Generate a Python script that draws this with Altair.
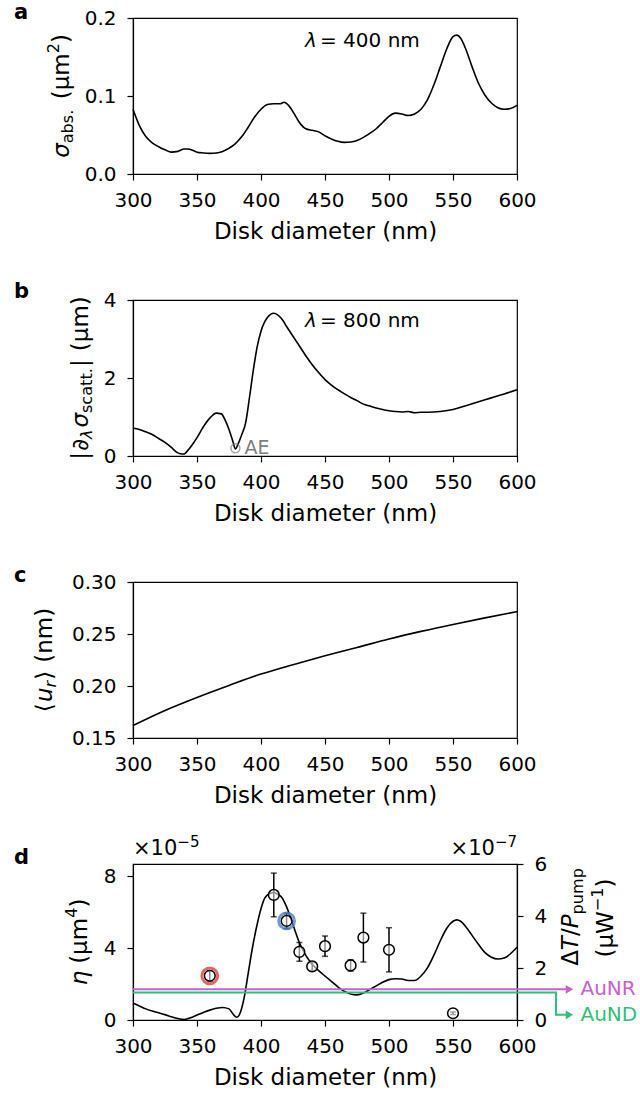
import altair as alt
import pandas as pd

FONT = "DejaVu Sans"
W, H = 384, 156          # plot area of every panel
XDOM = [300, 600]
XTICKS = list(range(300, 601, 50))

# ---------------- panel a: absorption cross-section, lambda = 400 nm ----------------
diam_a = [300, 305, 310, 315, 320, 325, 330, 335, 340, 343, 347, 350, 355, 360, 365, 370,
          375, 380, 385, 390, 395, 400, 405, 410, 415, 418, 422, 426, 430, 435, 440, 445,
          450, 455, 460, 465, 470, 475, 480, 485, 490, 495, 500, 505, 510, 515, 520, 525,
          530, 535, 540, 545, 550, 553, 556, 560, 565, 570, 575, 580, 585, 590, 595, 600]
sigma_abs = [0.083, 0.062, 0.048, 0.040, 0.035, 0.031, 0.028, 0.029, 0.032, 0.032, 0.030,
             0.028, 0.027, 0.0265, 0.027, 0.029, 0.033, 0.039, 0.048, 0.060, 0.073, 0.083,
             0.089, 0.090, 0.090, 0.092, 0.087, 0.077, 0.066, 0.058, 0.056, 0.054, 0.049,
             0.045, 0.042, 0.0405, 0.041, 0.043, 0.047, 0.052, 0.058, 0.066, 0.074, 0.078,
             0.077, 0.075, 0.077, 0.083, 0.095, 0.114, 0.137, 0.160, 0.176, 0.178, 0.174,
             0.160, 0.137, 0.116, 0.101, 0.091, 0.085, 0.083, 0.084, 0.088]

# ---------------- panel b: |d sigma_scatt / d lambda|, lambda = 800 nm ----------------
diam_b = [300, 305, 310, 315, 320, 325, 330, 334, 337, 340, 343, 347, 350, 355, 360, 365,
          369, 372, 375, 378, 380, 382, 385, 388, 391, 394, 397, 400, 405, 410, 413, 417,
          420, 425, 430, 435, 440, 445, 450, 455, 460, 465, 470, 475, 480, 485, 490, 495,
          500, 505, 510, 515, 520, 525, 530, 540, 550, 560, 570, 580, 590, 600]
dsigma_scatt = [0.71, 0.68, 0.62, 0.55, 0.45, 0.35, 0.22, 0.10, 0.06, 0.05, 0.15, 0.32,
                0.47, 0.75, 0.97, 1.10, 1.08, 0.92, 0.68, 0.38, 0.18, 0.30, 0.55, 0.85,
                1.50, 2.20, 2.80, 3.20, 3.55, 3.66, 3.62, 3.48, 3.32, 3.07, 2.82, 2.57,
                2.34, 2.14, 1.96, 1.82, 1.70, 1.60, 1.50, 1.42, 1.33, 1.28, 1.23, 1.19,
                1.16, 1.14, 1.13, 1.14, 1.11, 1.12, 1.12, 1.14, 1.19, 1.29, 1.39, 1.49,
                1.59, 1.70]
ae_diam, ae_val = 380, 0.2

# ---------------- panel c: mean radial displacement ----------------
diam_c = [300, 325, 350, 375, 400, 425, 450, 475, 500, 525, 550, 575, 600]
u_r = [0.162, 0.1765, 0.189, 0.2005, 0.2115, 0.2205, 0.229, 0.237, 0.2452, 0.2525,
       0.2592, 0.2655, 0.2715]

# ---------------- panel d: eta (x1e-5 um^4) and measured dT/P (x1e-7 uW^-1) ----------------
diam_d = [300, 305, 310, 315, 320, 325, 330, 335, 340, 345, 350, 355, 360, 365, 370, 375,
          378, 381, 384, 387, 390, 393, 396, 400, 403, 407, 410, 413, 416, 420, 425, 430,
          435, 440, 445, 450, 455, 460, 465, 470, 475, 480, 485, 490, 495, 500, 505, 510,
          515, 520, 525, 530, 535, 540, 545, 550, 553, 556, 560, 565, 570, 575, 580, 585,
          590, 595, 600]
eta = [0.94, 0.78, 0.62, 0.50, 0.40, 0.30, 0.18, 0.08, 0.03, 0.12, 0.28, 0.42, 0.55, 0.65,
       0.70, 0.62, 0.35, 0.15, 0.45, 1.30, 2.60, 3.90, 5.00, 6.20, 6.80, 7.05, 7.10, 7.00,
       6.85, 6.30, 5.30, 4.30, 3.60, 3.10, 2.75, 2.45, 2.15, 1.85, 1.60, 1.45, 1.40, 1.50,
       1.70, 1.90, 2.10, 2.25, 2.30, 2.28, 2.20, 2.20, 2.45, 2.90, 3.60, 4.40, 5.10, 5.50,
       5.58, 5.50, 5.20, 4.70, 4.20, 3.75, 3.50, 3.40, 3.45, 3.70, 4.05]

meas_diam = [360, 410, 420, 430, 440, 450, 470, 480, 500, 550]
meas_dt = [1.70, 4.81, 3.81, 2.62, 2.06, 2.84, 2.10, 3.17, 2.70, 0.26]
meas_err = [0.20, 0.84, 0.30, 0.36, 0.15, 0.39, 0.22, 0.94, 0.85, 0.05]
ring_idx = [0, 2]
ring_col = ["#d8463e", "#4a82c6"]

aunr_x = [300, 641]
aunr_y = [1.18, 1.18]
aund_x = [300, 630.5, 630.5, 641]
aund_y = [1.06, 1.06, 0.20, 0.20]
AUNR_COL, AUND_COL = "#c562d0", "#2fbf78"

ETA_MAX = 8.69
DT_MAX = 6

# DejaVu Sans advance widths (em) used to lay out composed labels
CW = {" ": .318, "(": .390, ")": .390, ".": .318, "|": .337, "/": .337, "=": .838,
      "a": .613, "b": .635, "c": .550, "d": .635, "e": .615, "m": .974, "n": .634,
      "p": .635, "s": .521, "t": .392, "u": .634, "r": .411, "μ": .636, "σ": .634,
      "λ": .592, "∂": .517, "η": .634, "Δ": .684, "T": .611, "P": .603, "W": .989,
      "−": .838, "⟨": .390, "⟩": .390, "×": .838}
for d in "0123456789":
    CW[d] = .636


def tw(s, fs):
    return sum(CW.get(ch, .6) for ch in s) * fs


def one():
    return alt.Data(values=[{}])


def txt(t, x, y, fs, italic=False, angle=0, align="left", baseline="alphabetic",
        color="black", weight="normal"):
    props = dict(text=t, align=align, baseline=baseline, font=FONT, fontSize=fs,
                 fontStyle="italic" if italic else "normal", fontWeight=weight, color=color)
    if angle:
        props["angle"] = angle
    return alt.Chart(one()).mark_text(**props).encode(x=alt.value(x), y=alt.value(y))


def vtitle(segs, x0, yc, fs=23):
    """Rotated (bottom-to-top) label built from pieces: (text, scale, shift_em, italic, gap_em)."""
    total = sum(tw(t, fs * sc) + g * fs for t, sc, sh, it, g in segs)
    y = yc + total / 2
    out = []
    for t, sc, sh, it, g in segs:
        y -= g * fs
        out.append(txt(t, x0 + sh * fs, y, fs * sc, italic=it, angle=270))
        y -= tw(t, fs * sc)
    return out


X_AXIS = alt.Axis(values=XTICKS, title="Disk diameter (nm)", titlePadding=10, labelPadding=10,
                  labelFlush=False)


def xenc(field="d"):
    return alt.X(f"{field}:Q", scale=alt.Scale(domain=XDOM, nice=False, zero=False), axis=X_AXIS)


def panel_label(ch, y):
    return txt(ch, -119, y, 21, weight="bold")


def lam_label(val, y):
    return [txt("λ", 172, y, 20, italic=True, baseline="middle"),
            txt(f"= {val} nm", 187, y, 20, baseline="middle")]


# ---- panel a ----
df_a = pd.DataFrame({"d": diam_a, "v": sigma_abs})
line_a = alt.Chart(df_a).mark_line(color="black", strokeWidth=1.6, interpolate="monotone").encode(
    x=xenc(),
    y=alt.Y("v:Q", scale=alt.Scale(domain=[0, 0.2], nice=False),
            axis=alt.Axis(values=[0, 0.1, 0.2], format=".1f", title=None, labelPadding=11)))
pa = alt.layer(
    line_a, *lam_label(400, 23), panel_label("a", 1),
    *vtitle([("σ", 1, 0, True, 0), ("abs.", .7, .18, False, 0), ("(μm", 1, 0, False, .45),
             ("2", .7, -.42, False, 0), (")", 1, 0, False, 0)], -64, H / 2)
).properties(width=W, height=H)

# ---- panel b ----
df_b = pd.DataFrame({"d": diam_b, "v": dsigma_scatt})
YB_SCALE = alt.Scale(domain=[0, 4], nice=False)
YB_AXIS = alt.Axis(values=[0, 2, 4], title=None, labelPadding=11)
line_b = alt.Chart(df_b).mark_line(color="black", strokeWidth=1.6, interpolate="monotone").encode(
    x=xenc(), y=alt.Y("v:Q", scale=YB_SCALE, axis=YB_AXIS))
df_ae = pd.DataFrame({"d": [ae_diam], "v": [ae_val]})
ae_pt = alt.Chart(df_ae).mark_point(shape="circle", filled=False, color="#7f7f7f",
                                    strokeWidth=1.5, size=80).encode(
    x=xenc(), y=alt.Y("v:Q", scale=YB_SCALE, axis=YB_AXIS))
ae_txt = alt.Chart(df_ae).mark_text(text="AE", align="left", baseline="middle", font=FONT,
                                    fontSize=19, color="#7f7f7f", dx=9).encode(
    x=xenc(), y=alt.Y("v:Q", scale=YB_SCALE, axis=YB_AXIS))
pb = alt.layer(
    line_b, ae_pt, ae_txt, *lam_label(800, 21), panel_label("b", -2),
    *vtitle([("|", 1, 0, False, 0), ("∂", 1, 0, True, .05), ("λ", .7, .18, True, 0),
             ("σ", 1, 0, True, .08), ("scatt.", .7, .18, False, 0), ("|", 1, 0, False, .05),
             ("(μm)", 1, 0, False, .35)], -45, H / 2)
).properties(width=W, height=H)

# ---- panel c ----
df_c = pd.DataFrame({"d": diam_c, "v": u_r})
line_c = alt.Chart(df_c).mark_line(color="black", strokeWidth=1.6, interpolate="monotone").encode(
    x=xenc(),
    y=alt.Y("v:Q", scale=alt.Scale(domain=[0.15, 0.30], nice=False, zero=False),
            axis=alt.Axis(values=[0.15, 0.2, 0.25, 0.3], format=".2f", title=None,
                          labelPadding=11)))
pc = alt.layer(
    line_c, panel_label("c", 0),
    *vtitle([("⟨", 1, 0, False, 0), ("u", 1, 0, True, .05), ("r", .7, .18, True, 0),
             ("⟩", 1, 0, False, .05), ("(nm)", 1, 0, False, .35)], -81, H / 2)
).properties(width=W, height=H)

# ---- panel d ----
df_eta = pd.DataFrame({"d": diam_d, "v": eta})
df_m = pd.DataFrame({"d": meas_diam, "v": meas_dt,
                     "lo": [v - e for v, e in zip(meas_dt, meas_err)],
                     "hi": [v + e for v, e in zip(meas_dt, meas_err)]})
df_ring = pd.DataFrame({"d": [meas_diam[i] for i in ring_idx],
                        "v": [meas_dt[i] for i in ring_idx], "c": ring_col})
ydt = alt.Scale(domain=[0, DT_MAX], nice=False)

line_d = alt.Chart(df_eta).mark_line(color="black", strokeWidth=1.6, interpolate="monotone").encode(
    x=xenc(),
    y=alt.Y("v:Q", scale=alt.Scale(domain=[0, ETA_MAX], nice=False),
            axis=alt.Axis(values=[0, 4, 8], title=None, labelPadding=11, orient="left")))
err = alt.Chart(df_m).mark_rule(color="black", strokeWidth=1.5).encode(
    x=xenc(),
    y=alt.Y("lo:Q", scale=ydt,
            axis=alt.Axis(values=[0, 2, 4, 6], title=None, labelPadding=11, orient="right")),
    y2="hi:Q")
cap_lo = alt.Chart(df_m).mark_tick(color="black", orient="horizontal", size=6, thickness=1.5).encode(
    x=xenc(), y=alt.Y("lo:Q", scale=ydt, axis=None))
cap_hi = alt.Chart(df_m).mark_tick(color="black", orient="horizontal", size=6, thickness=1.5).encode(
    x=xenc(), y=alt.Y("hi:Q", scale=ydt, axis=None))
pts = alt.Chart(df_m).mark_point(shape="circle", filled=True, fill="white", fillOpacity=0.55,
                                 stroke="black", strokeWidth=1.5, size=115, opacity=1).encode(
    x=xenc(), y=alt.Y("v:Q", scale=ydt, axis=None))
rings = alt.Chart(df_ring).mark_point(shape="circle", filled=False, strokeWidth=3, size=250,
                                      opacity=0.8).encode(
    x=xenc(), y=alt.Y("v:Q", scale=ydt, axis=None),
    color=alt.Color("c:N", scale=None))

df_nr = pd.DataFrame({"d": aunr_x, "v": aunr_y, "i": list(range(len(aunr_x)))})
df_nd = pd.DataFrame({"d": aund_x, "v": aund_y, "i": list(range(len(aund_x)))})
nr_line = alt.Chart(df_nr).mark_line(color=AUNR_COL, strokeWidth=2).encode(
    x=xenc(), y=alt.Y("v:Q", scale=ydt, axis=None), order="i:Q")
nd_line = alt.Chart(df_nd).mark_line(color=AUND_COL, strokeWidth=2).encode(
    x=xenc(), y=alt.Y("v:Q", scale=ydt, axis=None), order="i:Q")
df_heads = pd.DataFrame({"d": [aunr_x[-1], aund_x[-1]], "v": [aunr_y[-1], aund_y[-1]],
                         "c": [AUNR_COL, AUND_COL], "name": ["AuNR", "AuND"]})
heads = alt.Chart(df_heads).mark_point(shape="triangle-right", filled=True, size=75, opacity=1).encode(
    x=xenc(), y=alt.Y("v:Q", scale=ydt, axis=None),
    color=alt.Color("c:N", scale=None))
names = alt.Chart(df_heads).mark_text(align="left", baseline="middle", font=FONT, fontSize=20,
                                      dx=11).encode(
    x=xenc(), y=alt.Y("v:Q", scale=ydt, axis=None), text="name:N",
    color=alt.Color("c:N", scale=None))

exp_left = [txt("×10", 0, -9, 21), txt("−5", tw("×10", 21), -17, 15)]
exp_right = [txt("−7", W, -17, 15, align="right"),
             txt("×10", W - tw("−7", 15), -9, 21, align="right")]

pd_chart = alt.layer(
    line_d, err, cap_lo, cap_hi, pts, rings, nr_line, nd_line, heads, names,
    panel_label("d", 0), *exp_left, *exp_right,
    *vtitle([("η", 1, 0, True, 0), ("(μm", 1, 0, False, .3), ("4", .7, -.42, False, 0),
             (")", 1, 0, False, 0)], -46, H / 2),
    *vtitle([("Δ", 1, 0, False, 0), ("T", 1, 0, True, 0), ("/", 1, 0, False, 0),
             ("P", 1, 0, True, 0), ("pump", .7, .2, False, 0)], 445, 53),
    *vtitle([("(μW", 1, 0, False, 0), ("−1", .7, -.42, False, 0), (")", 1, 0, False, 0)], 480, 54),
).resolve_scale(y="independent").properties(width=W, height=H)

chart = alt.vconcat(pa, pb, pc, pd_chart, spacing=126, bounds="flush").properties(
    padding={"left": 13, "top": 1, "right": 0, "bottom": 0}
).configure_view(stroke="black", strokeWidth=1.2).configure_axis(
    labelFont=FONT, labelFontSize=20, labelColor="black",
    titleFont=FONT, titleFontSize=23, titleFontWeight="normal", titleColor="black",
    domainColor="black", domainWidth=1.2, tickColor="black", tickWidth=1.2, tickSize=6,
    grid=False)

chart.save("out.html", embed_options={"renderer": "svg", "actions": False})
